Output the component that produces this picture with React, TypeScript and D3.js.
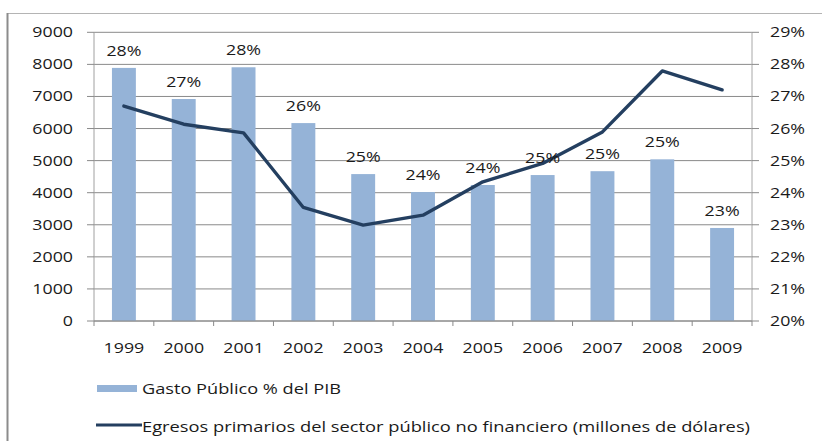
import React from "react";
import * as d3 from "d3";

const years = ["1999", "2000", "2001", "2002", "2003", "2004", "2005", "2006", "2007", "2008", "2009"];
const gastoPct = [27.89, 26.92, 27.91, 26.17, 24.58, 24.02, 24.24, 24.55, 24.67, 25.04, 22.9];
const gastoLabels = ["28%", "27%", "28%", "26%", "25%", "24%", "24%", "25%", "25%", "25%", "23%"];
const egresos = [6700, 6135, 5865, 3540, 2990, 3300, 4340, 4910, 5895, 7795, 7205];
const leftTicks = [0, 1000, 2000, 3000, 4000, 5000, 6000, 7000, 8000, 9000];
const rightTicks = [20, 21, 22, 23, 24, 25, 26, 27, 28, 29];
const legendBar = "Gasto Público % del PIB";
const legendLine = "Egresos primarios del sector público no financiero (millones de dólares)";

const W = 822;
const H = 441;
const plot = { left: 94, right: 752, top: 32.3, bottom: 321 };
const FONT = "'Open Sans', sans-serif";
const SX = 1.27;

export default function App() {
  const x = d3.scaleBand<string>().domain(years).range([plot.left, plot.right]);
  const yL = d3.scaleLinear().domain([0, 9000]).range([plot.bottom, plot.top]);
  const yR = d3.scaleLinear().domain([20, 29]).range([plot.bottom, plot.top]);
  const bw = x.bandwidth() * 0.4;
  const cx = (y: string) => (x(y) as number) + x.bandwidth() / 2;
  const line = d3
    .line<number>()
    .x((_, i) => cx(years[i]))
    .y((d) => yL(d))(egresos);

  const T = (props: { x: number; y: number; anchor: string; size?: number; children: string }) => (
    <g transform={`translate(${props.x},${props.y}) scale(${SX},1)`}>
      <text x={0} y={0} textAnchor={props.anchor} fontFamily={FONT} fontSize={props.size ?? 14} fill="#1a1a1a">
        {props.children}
      </text>
    </g>
  );

  return (
    <svg width={W} height={H} style={{ position: "absolute", left: 0, top: 0, background: "#fff" }}>
      <rect x={0} y={0} width={W} height={H} fill="#fff" />
      {/* frame */}
      <line x1={7.5} y1={13.5} x2={W} y2={13.5} stroke="#b4b4b4" strokeWidth={1} />
      <line x1={7.5} y1={13} x2={7.5} y2={H} stroke="#8c8c8c" strokeWidth={2} />
      {/* gridlines */}
      {leftTicks.map((t) => (
        <line key={t} x1={plot.left} x2={plot.right} y1={yL(t)} y2={yL(t)} stroke="#8a8a8a" strokeWidth={1} />
      ))}
      {/* bars */}
      {years.map((yr, i) => (
        <rect key={yr} x={cx(yr) - bw / 2} y={yR(gastoPct[i])} width={bw} height={plot.bottom - yR(gastoPct[i])} fill="#95b3d7" />
      ))}
      {/* axes */}
      <line x1={plot.left} x2={plot.left} y1={plot.top} y2={plot.bottom} stroke="#a0a0a0" />
      <line x1={plot.right} x2={plot.right} y1={plot.top} y2={plot.bottom} stroke="#a8a8a8" />
      <line x1={plot.left} x2={plot.right} y1={plot.bottom} y2={plot.bottom} stroke="#8a8a8a" />
      {leftTicks.map((t) => (
        <line key={"lt" + t} x1={plot.left - 7} x2={plot.left} y1={yL(t)} y2={yL(t)} stroke="#8a8a8a" />
      ))}
      {rightTicks.map((t) => (
        <line key={"rt" + t} x1={plot.right} x2={plot.right + 7} y1={yR(t)} y2={yR(t)} stroke="#8a8a8a" />
      ))}
      {years.concat(["end"]).map((yr, i) => {
        const xx = plot.left + i * x.step();
        return <line key={"xt" + yr} x1={xx} x2={xx} y1={plot.bottom} y2={plot.bottom + 5} stroke="#8a8a8a" />;
      })}
      {/* line */}
      <path d={line ?? ""} fill="none" stroke="#243f60" strokeWidth={3.4} strokeLinejoin="round" strokeLinecap="round" />
      {/* bar labels */}
      {years.map((yr, i) => (
        <T key={"bl" + yr} x={cx(yr)} y={yR(gastoPct[i]) - 12} anchor="middle">
          {gastoLabels[i]}
        </T>
      ))}
      {/* axis labels */}
      {leftTicks.map((t) => (
        <T key={"ll" + t} x={73} y={yL(t) + 5} anchor="end">
          {String(t)}
        </T>
      ))}
      {rightTicks.map((t) => (
        <T key={"rl" + t} x={770} y={yR(t) + 5} anchor="start">
          {t + "%"}
        </T>
      ))}
      {years.map((yr) => (
        <T key={"xl" + yr} x={cx(yr)} y={353} anchor="middle">
          {yr}
        </T>
      ))}
      {/* legend */}
      <rect x={97} y={385} width={40} height={7} fill="#95b3d7" />
      <text x={142} y={394} fontFamily={FONT} fontSize={15} fill="#1a1a1a" textLength={199} lengthAdjust="spacingAndGlyphs">
        {legendBar}
      </text>
      <line x1={96} x2={142} y1={425} y2={425} stroke="#243f60" strokeWidth={3} />
      <text x={142} y={431.5} fontFamily={FONT} fontSize={15} fill="#1a1a1a" textLength={608} lengthAdjust="spacingAndGlyphs">
        {legendLine}
      </text>
    </svg>
  );
}
